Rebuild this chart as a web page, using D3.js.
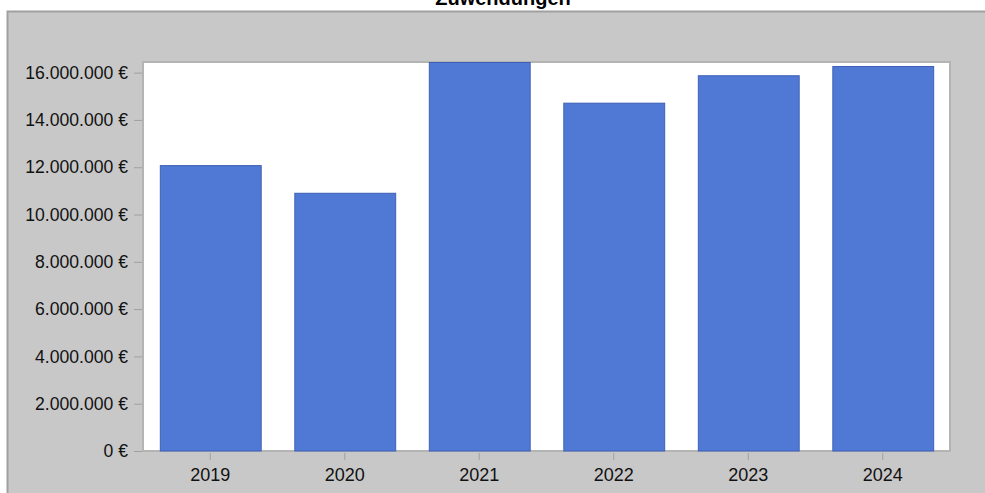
<!DOCTYPE html>
<html>
<head>
<meta charset="utf-8">
<script src="https://cdn.jsdelivr.net/npm/d3@7"></script>
<style>
    body { margin: 0; background: #ffffff; }
    svg { display: block; font-family: Arial, "Liberation Sans", sans-serif; }
</style>
</head>
<body>
<div id="chart"></div>
<script>
// Data
var years = ["2019", "2020", "2021", "2022", "2023", "2024"];
var amounts = [12090000, 10920000, 16450000, 14730000, 15890000, 16280000];
var yTicks = [0, 2000000, 4000000, 6000000, 8000000, 10000000, 12000000, 14000000, 16000000];
var chartTitle = "Zuwendungen";

var width = 985;
var height = 493;

// plot area inside the grey panel
var plot = { left: 143, top: 62, right: 950, bottom: 451 };

var svg = d3.select("#chart")
    .append("svg")
    .attr("width", width)
    .attr("height", height);

// grey outer panel
svg.append("rect")
    .attr("x", 7.5)
    .attr("y", 11.5)
    .attr("width", width + 10)
    .attr("height", height)
    .attr("fill", "#c8c8c8")
    .attr("stroke", "#a0a0a0")
    .attr("stroke-width", 2);

// title, partly cut off at the top
svg.append("text")
    .attr("x", 503)
    .attr("y", 5)
    .attr("text-anchor", "middle")
    .style("font-size", "20px")
    .style("font-weight", "bold")
    .attr("fill", "#000")
    .text(chartTitle);

// white plot background
svg.append("rect")
    .attr("x", plot.left)
    .attr("y", plot.top)
    .attr("width", plot.right - plot.left)
    .attr("height", plot.bottom - plot.top)
    .attr("fill", "#ffffff")
    .attr("stroke", "#b4b4b4")
    .attr("stroke-width", 2);

var x = d3.scaleBand()
    .domain(years)
    .range([plot.left, plot.right])
    .paddingInner(0.25)
    .paddingOuter(0.125);

var y = d3.scaleLinear()
    .domain([0, 16450000])
    .range([plot.bottom, plot.top]);

function euro(v) {
    return d3.format(",")(v).replace(/,/g, ".") + " €";
}

// bars
svg.append("g")
    .selectAll("rect")
    .data(amounts)
    .enter()
    .append("rect")
    .attr("x", function (d, i) { return x(years[i]) + 0.5; })
    .attr("y", function (d) { return y(d) + 0.5; })
    .attr("width", x.bandwidth())
    .attr("height", function (d) { return y(0) - y(d) - 0.5; })
    .attr("fill", "#5079d6")
    .attr("stroke", "#3e60b4")
    .attr("stroke-width", 1);

// y axis
var yAxis = svg.append("g")
    .attr("transform", "translate(" + (plot.left - 1) + ",0)")
    .call(d3.axisLeft(y).tickValues(yTicks).tickFormat(euro).tickSize(8).tickPadding(6));
yAxis.select(".domain").remove();
yAxis.selectAll(".tick line").attr("stroke", "#a0a0a0");
yAxis.selectAll(".tick text")
    .attr("fill", "#111")
    .style("font-size", "17.6px")
    .style("font-family", "Arial, 'Liberation Sans', sans-serif");

// x axis
var xAxis = svg.append("g")
    .attr("transform", "translate(0," + (plot.bottom + 2) + ")")
    .call(d3.axisBottom(x).tickSize(7).tickPadding(8));
xAxis.select(".domain").remove();
xAxis.selectAll(".tick line").attr("stroke", "#a0a0a0");
xAxis.selectAll(".tick text")
    .attr("fill", "#111")
    .style("font-size", "18px")
    .style("font-family", "Arial, 'Liberation Sans', sans-serif");
</script>
</body>
</html>
